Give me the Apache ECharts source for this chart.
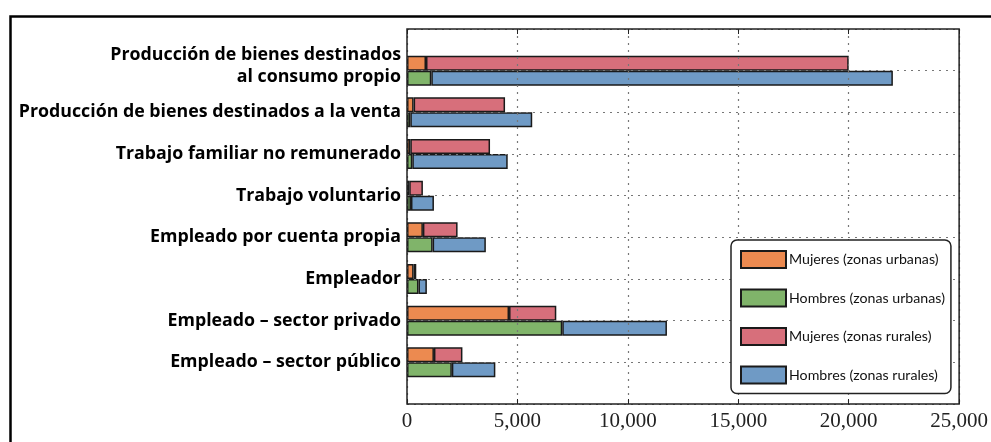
<!DOCTYPE html>
<html>
<head>
<meta charset="utf-8">
<script src="https://cdn.jsdelivr.net/npm/echarts@6/dist/echarts.min.js"></script>
<style>html,body{margin:0;padding:0;background:#fff}#c{width:991px;height:442px}</style>
</head>
<body>
<div id="c"></div>
<script>
var categories = [
  'Producción de bienes destinados\nal consumo propio',
  'Producción de bienes destinados a la venta',
  'Trabajo familiar no remunerado',
  'Trabajo voluntario',
  'Empleado por cuenta propia',
  'Empleador',
  'Empleado – sector privado',
  'Empleado – sector público'
];
var mujeresUrbanas = [860, 300, 150, 100, 720, 300, 4620, 1220];
var hombresUrbanos = [1100, 150, 240, 180, 1160, 520, 7030, 2030];
var mujeresRurales = [19140, 4140, 3610, 620, 1570, 120, 2140, 1290];
var hombresRurales = [20900, 5520, 4320, 1040, 2410, 380, 4740, 1970];
var seriesNames = ['Mujeres (zonas urbanas)', 'Hombres (zonas urbanas)', 'Mujeres (zonas rurales)', 'Hombres (zonas rurales)'];
var xTicks = [0, 5000, 10000, 15000, 20000, 25000];

function pad(arr) { return ['-'].concat(arr, ['-']); }
var yCats = [''].concat(categories, ['']);

var chart = echarts.init(document.getElementById('c'), null, {renderer: 'canvas'});
function mk(name, data, stack, color) {
  return {type: 'bar', barWidth: 15, barGap: '0%', name: name, data: pad(data), stack: stack,
    itemStyle: {color: color, borderColor: '#1a1a1a', borderWidth: 1.5}};
}
var gridLine = {show: true, lineStyle: {color: '#777', type: [2, 5], width: 1.2}};
var labelFont = {fontFamily: 'Open Sans', fontWeight: 'bold', fontSize: 17.8, color: '#000'};
chart.setOption({
  animation: false,
  graphic: [{type: 'rect', left: 8, top: 14, shape: {width: 1100, height: 600}, style: {fill: 'none', stroke: '#000', lineWidth: 2.5}, z: 0}],
  grid: {left: 407, top: 29, right: 31, bottom: 38, show: true, borderColor: '#222', borderWidth: 1.5, z: 5},
  legend: {
    orient: 'vertical', left: 731, top: 240,
    data: seriesNames,
    itemWidth: 45, itemHeight: 17, itemGap: 19.5,
    padding: [10, 6, 9, 9],
    backgroundColor: '#fff', borderColor: '#222', borderWidth: 1.5, borderRadius: 6,
    textStyle: {fontFamily: 'Lato', fontSize: 14.2, color: '#111', padding: [0, 0, 0, -2]},
    icon: 'rect', z: 10
  },
  xAxis: [{
    type: 'value', min: 0, max: 25000, interval: 5000, position: 'bottom', z: 3,
    axisLine: {show: false},
    axisTick: {show: true, inside: true, length: 5, lineStyle: {color: '#222'}},
    axisLabel: {margin: 7, fontFamily: 'Liberation Serif', fontSize: 21, color: '#222',
      formatter: function (v) { return v.toLocaleString('en-US'); }},
    splitLine: gridLine
  }, {
    type: 'value', min: 0, max: 25000, interval: 5000, position: 'top', z: 3,
    axisLine: {show: false},
    axisTick: {show: true, inside: true, length: 5, lineStyle: {color: '#222'}},
    axisLabel: {show: false}, splitLine: {show: false}
  }],
  yAxis: {
    type: 'category', data: yCats, inverse: true, boundaryGap: false, z: 3,
    axisLine: {show: false},
    axisTick: {show: false},
    axisLabel: Object.assign({margin: 6, lineHeight: 22,
      formatter: function (v, i) { return i === 1 ? '{a|' + v.split('\n').join('}\n{a|') + '}\n{b| }' : v; },
      rich: {a: Object.assign({lineHeight: 22, align: 'right'}, labelFont), b: {fontSize: 6, lineHeight: 10}}
    }, labelFont),
    splitLine: gridLine
  },
  series: [
    mk(seriesNames[0], mujeresUrbanas, 'M', '#EC8A50'),
    mk(seriesNames[1], hombresUrbanos, 'H', '#80B46A'),
    mk(seriesNames[2], mujeresRurales, 'M', '#D76F7B'),
    mk(seriesNames[3], hombresRurales, 'H', '#6F9AC5')
  ]
});
</script>
</body>
</html>
